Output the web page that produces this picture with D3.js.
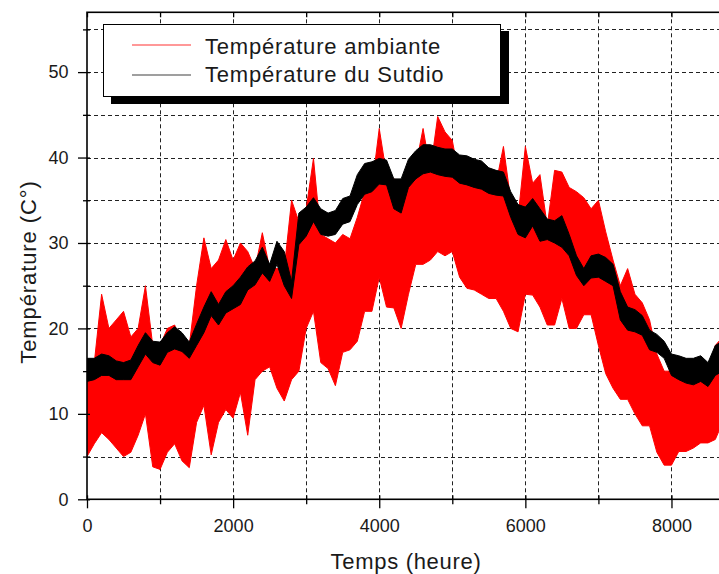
<!DOCTYPE html>
<html>
<head>
<meta charset="utf-8">
<script src="https://cdn.jsdelivr.net/npm/d3@7"></script>
<style>
  body { margin: 0; background: #fff; }
  text { font-family: "Liberation Sans", Arial, sans-serif; fill: #1a1a1a; }
</style>
</head>
<body>
<script>

/* sample step of the envelopes (hours) */
var sampleStep = 100;

/* Température du Sutdio : upper / lower edge of the black band */
var studioHi = [16.5,16.5,17,16.8,16.2,16,16.3,18,19.5,18.5,
                18.4,19.5,20.2,19.5,18.4,20.5,22.5,24.3,22.8,24.3,
                25,26,27.2,27.9,29.5,27.5,30.2,29,25.5,33.5,
                34.2,35.3,34,33.5,33.8,35.2,35.5,38,39.3,39.5,
                39.9,39.7,37.5,37.5,39.8,40.8,41.5,41.5,41.2,41,
                41,40.3,40.2,39.8,39.6,38.8,38.5,38.3,36,34.5,
                34.2,35.2,34,32.8,32.6,33.2,31,28.5,27,28.5,
                28.7,28.3,27.5,24.3,22.5,22.2,21.5,19.8,19.3,18.5,
                17,16.8,16.5,16.5,16.8,16,18,18.5];
var studioLo = [13.8,14,14.5,14.5,14,14,14,15.5,17,16,
                15.7,17.2,17.6,17.3,16.5,18,19.5,21.5,20.4,21.8,
                22.3,22.8,24.5,25.1,26.5,25.5,27.5,25,23.5,29.8,
                30.8,32.5,31,30.8,31,32.2,32.5,34.5,35.7,36,
                36.9,36.8,34,33.5,36.5,37.5,38.1,38.3,38,37.8,
                37.7,37,36.8,36.5,36.3,35.8,35.6,35.5,33,31,
                30.6,32,30.2,30.4,30,29.5,28.5,26.2,25,25.9,
                26,25.5,25,21,19.8,19.6,19.2,17.5,17.2,16.5,
                14.5,14,13.6,13.4,13.8,13.2,14.5,15];

/* Température ambiante : upper / lower edge of the red band */
var ambHi = [15,16,24,20,21,22,19,20,25,18,
             18,20,20.4,18,18,25,30.6,27,28,30.4,
             28,30,29,27,31.2,27,27,27,35,32.5,
             34,39.9,31,30.5,30,31,30.5,33,36,36.5,
             43.4,38,37.5,37,38.5,39,43.4,38.5,44.8,43,
             42,37.5,37,37,37,37,37,41.3,35,33,
             41.3,37,38,32,38.5,38.3,36.5,36,35.3,34,
             35,31.3,28,25,27,24,23,21,17,15,
             15,14.5,14,14,14,15,18,19];
var ambLo = [5,6.5,7.8,7,6,5,5.5,7.5,10,3.8,
             3.5,5.5,6.5,4.5,3.7,9,11,5.2,9,10.5,
             9.5,12.5,7.5,14,15,15.5,13,11.5,14,15,
             20,22,16,15.3,13.3,17.2,17.5,18.5,22,22,
             26,22.5,22.4,20,24,27.5,27.5,28,29,28.5,
             29,26,24.7,24.5,24,23.5,23.5,22,20,19.6,
             24,23.9,22.5,20.4,20.4,23.5,20,20,21.6,21.6,
             18,14.7,13,11.7,11.7,10,8.6,8.6,5.5,4,
             4,5.6,5.6,6,6.6,6.6,7,9];

/* axis ticks */
var xMajor = [0, 2000, 4000, 6000, 8000];
var xMinor = [1000, 3000, 5000, 7000];
var yMajor = [0, 10, 20, 30, 40, 50];
var yMinor = [5, 15, 25, 35, 45, 55];

var seriesNames = ["Température ambiante", "Température du Sutdio"];
var seriesColors = ["#ff0000", "#000000"];

var width = 719, height = 574;
var plotLeft = 87, plotRight = 727, plotTop = 12.3, plotBottom = 499.3;

var svg = d3.select("body").append("svg")
    .attr("width", width)
    .attr("height", height);

var x = d3.scaleLinear().domain([0, 8760]).range([plotLeft, plotRight]);
var y = d3.scaleLinear().domain([0, 57]).range([plotBottom, plotTop]);

svg.append("defs").append("clipPath").attr("id", "plotclip")
  .append("rect")
    .attr("x", plotLeft).attr("y", plotTop)
    .attr("width", plotRight - plotLeft).attr("height", plotBottom - plotTop);

/* dashed grid */
var grid = svg.append("g").attr("stroke", "#222").attr("stroke-width", 1)
    .attr("stroke-dasharray", "4,3");
grid.selectAll("line.gx").data(xMajor.concat(xMinor).filter(function (d) { return d > 0; }))
  .enter().append("line")
    .attr("x1", function (d) { return Math.round(x(d)) + 0.5; })
    .attr("x2", function (d) { return Math.round(x(d)) + 0.5; })
    .attr("y1", plotTop).attr("y2", plotBottom);
grid.selectAll("line.gy").data(yMajor.concat(yMinor).filter(function (d) { return d > 0; }))
  .enter().append("line")
    .attr("y1", function (d) { return Math.round(y(d)) + 0.5; })
    .attr("y2", function (d) { return Math.round(y(d)) + 0.5; })
    .attr("x1", plotLeft).attr("x2", plotRight);

/* data bands */
var hours = ambHi.map(function (d, i) { return i * sampleStep; });

function band(hi, lo) {
    return d3.area()
        .x(function (d, i) { return x(hours[i]); })
        .y0(function (d, i) { return y(lo[i]); })
        .y1(function (d, i) { return y(hi[i]); })(hi);
}

var plot = svg.append("g").attr("clip-path", "url(#plotclip)");
plot.append("path")
    .attr("d", band(ambHi, ambLo))
    .attr("fill", seriesColors[0])
    .attr("stroke", seriesColors[0])
    .attr("stroke-width", 1);
plot.append("path")
    .attr("d", band(studioHi, studioLo))
    .attr("fill", seriesColors[1])
    .attr("stroke", seriesColors[1])
    .attr("stroke-width", 1);

/* axes */
svg.append("g").attr("transform", "translate(" + plotLeft + ",0)")
    .call(d3.axisLeft(y).tickValues(yMajor).tickSize(9).tickPadding(9.5).tickFormat(d3.format("d")));
svg.append("g").attr("transform", "translate(" + plotLeft + ",0)")
    .call(d3.axisLeft(y).tickValues(yMinor).tickSize(4).tickFormat(""));
svg.append("g").attr("transform", "translate(" + plotLeft + ",0)")
    .call(d3.axisRight(y).tickValues(yMajor.concat(yMinor)).tickSize(3).tickFormat(""));

svg.append("g").attr("transform", "translate(0," + plotBottom + ")")
    .call(d3.axisBottom(x).tickValues(xMajor).tickSize(9).tickPadding(11).tickFormat(d3.format("d")));
svg.append("g").attr("transform", "translate(0," + plotBottom + ")")
    .call(d3.axisBottom(x).tickValues(xMinor).tickSize(5).tickFormat(""));
svg.append("g").attr("transform", "translate(0," + plotBottom + ")")
    .call(d3.axisTop(x).tickValues(xMajor.concat(xMinor)).tickSize(4).tickFormat(""));
svg.append("g").attr("transform", "translate(0," + plotTop + ")")
    .call(d3.axisBottom(x).tickValues(xMajor.concat(xMinor)).tickSize(5).tickFormat(""));

svg.selectAll(".domain").remove();
svg.selectAll(".tick line").attr("stroke", "#000").attr("stroke-width", 1.3);
svg.selectAll(".tick text")
    .style("font-family", "'Liberation Sans', Arial, sans-serif")
    .style("font-size", "18px")
    .attr("fill", "#1a1a1a");

/* frame */
svg.append("rect")
    .attr("x", plotLeft).attr("y", plotTop)
    .attr("width", plotRight - plotLeft).attr("height", plotBottom - plotTop)
    .attr("fill", "none").attr("stroke", "#000").attr("stroke-width", 1.6);

/* axis titles */
svg.append("text")
    .attr("x", 406).attr("y", 569)
    .attr("text-anchor", "middle")
    .style("font-size", "22px").style("letter-spacing", "0.7px")
    .text("Temps (heure)");

svg.append("text")
    .attr("transform", "translate(36,272) rotate(-90)")
    .attr("text-anchor", "middle")
    .style("font-size", "22px").style("letter-spacing", "0.9px")
    .text("Température (C°)");

/* legend */
var lg = svg.append("g");
lg.append("rect")
    .attr("x", 111).attr("y", 31).attr("width", 398).attr("height", 73)
    .attr("fill", "#000");
lg.append("rect")
    .attr("x", 103.5).attr("y", 24.5).attr("width", 397).attr("height", 72)
    .attr("fill", "#fff").attr("stroke", "#000").attr("stroke-width", 1);

var lineY = [45, 75];
var textY = [54, 82];
seriesNames.forEach(function (name, i) {
    lg.append("line")
        .attr("x1", 132).attr("x2", 191)
        .attr("y1", lineY[i]).attr("y2", lineY[i])
        .attr("stroke", seriesColors[i]).attr("stroke-width", 1.2)
        .attr("opacity", i === 0 ? 0.8 : 0.75);
    lg.append("text")
        .attr("x", 205).attr("y", textY[i])
        .style("font-size", "22px").style("letter-spacing", "0.8px")
        .text(name);
});

</script>
</body>
</html>
